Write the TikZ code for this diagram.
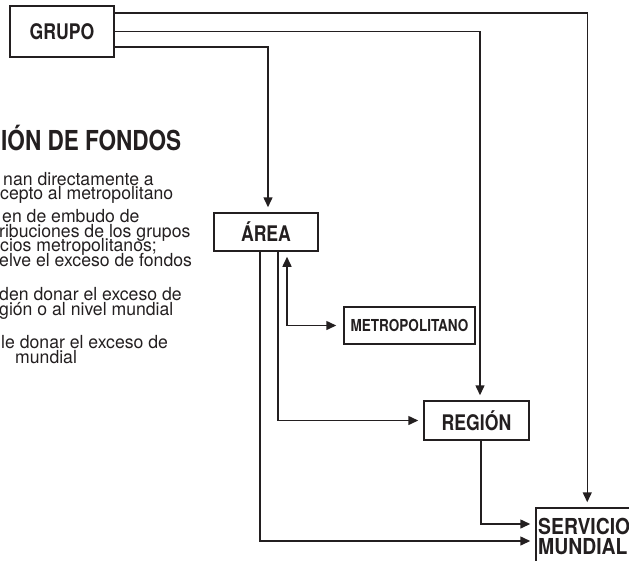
\documentclass[tikz,border=0pt]{standalone}
\usepackage{fontspec}
\setmainfont{TeX Gyre Heros}
\newfontfamily\condb{TeX Gyre Heros}[FakeStretch=0.82]
\newfontfamily\condc{TeX Gyre Heros}[FakeStretch=0.88]
\newfontfamily\bodyf{TeX Gyre Heros}[FakeStretch=0.98]
\usetikzlibrary{arrows.meta}
\definecolor{ink}{HTML}{231F20}
\tikzset{
  box/.style={draw=ink, line width=1.5pt, rectangle, inner sep=0pt, text=ink,
              font=\condb\bfseries\fontsize{21.5}{22}\selectfont},
  conn/.style={draw=ink, line width=1.5pt},
  tip/.tip={Triangle[length=10pt,width=9pt]},
  arr/.style={conn, -tip, shorten >=5pt},
  dbl/.style={conn, tip-tip, shorten >=5pt, shorten <=7pt},
  txt/.style={anchor=base west, inner sep=0pt, text=ink, text height=11pt, text depth=3pt,
              font=\bodyf\fontsize{18}{18}\selectfont},
  ttl/.style={anchor=base west, inner sep=0pt, text=ink, font=\condb\bfseries\fontsize{27.5}{28}\selectfont}
}
\begin{document}
\begin{tikzpicture}[x=1pt,y=-1pt]
\useasboundingbox (0,0) rectangle (629,560);
\clip (0,0) rectangle (629,560);

% boxes
\node[box, minimum width=104pt, minimum height=51pt] (grupo) at (62,31.5) {GRUPO};
\node[box, minimum width=104pt, minimum height=38pt] (area) at (266,232) {ÁREA};
\node[box, minimum width=131pt, minimum height=37pt,
      font=\condb\bfseries\fontsize{16.5}{17}\selectfont] (metro) at (409.5,325.5) {METROPOLITANO};
\node[box, minimum width=105pt, minimum height=39pt] (region) at (476.5,420.5) {REGIÓN};
\node[box, minimum width=124pt, minimum height=92pt] (sm) at (598,554) {};
\node[anchor=north west, inner sep=0pt, align=left, text=ink,
      font=\condc\bfseries\fontsize{22}{19.5}\selectfont] (smt) at (538,518) {SERVICIO\\MUNDIAL};

% left text (cut off at the left edge)
\node[ttl] (t0) at (1,150) {IÓN DE FONDOS};
\node[txt] (t1) at (3,185) {nan directamente a};
\node[txt] (t2) at (0,199.5) {cepto al metropolitano};
\node[txt] (t3) at (2,222.5) {en de embudo de};
\node[txt] (t4) at (-1,237) {ribuciones de los grupos};
\node[txt] (t5) at (0,251.5) {cios metropolitanos;};
\node[txt] (t6) at (-1,266) {elve el exceso de fondos};
\node[txt] (t7) at (-1,300.5) {den donar el exceso de};
\node[txt] (t8) at (-1,315) {gión o al nivel mundial};
\node[txt] (t9) at (1,348.5) {le donar el exceso de};
\node[txt] (t10) at (15,363) {mundial};

% connectors
\draw[arr] ([yshift=18.5pt]grupo.east) -| ([xshift=52pt]sm.north west);
\draw[arr] (grupo.east) -| ([xshift=3.5pt]region.north);
\draw[arr] ([yshift=-15.5pt]grupo.east) -| ([xshift=2pt]area.north);
\draw[arr] ([xshift=-6pt]area.south) |- ([yshift=13pt]sm.west);
\draw[arr] ([xshift=12pt]area.south) |- (region.west);
\draw[dbl] (metro.west) -| ([xshift=21pt]area.south);
\draw[arr] ([xshift=4.5pt]region.south) |- ([yshift=30pt]sm.west);
\end{tikzpicture}
\end{document}
